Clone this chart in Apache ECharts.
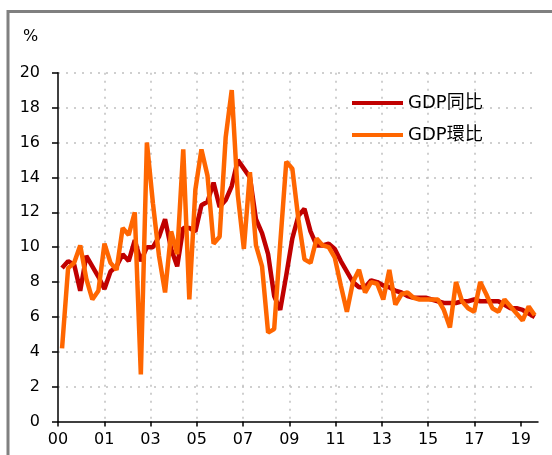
<!DOCTYPE html>
<html lang="zh-TW" style="height: 100%">
<head>
  <meta charset="utf-8">
</head>
<body style="height: 100%; margin: 0">
  <div id="container" style="width: 552px; height: 455px"></div>

  <script src="https://fastly.jsdelivr.net/npm/echarts@6.0.0/dist/echarts.min.js" type="text/javascript"></script>
  <script>
    // tick labels on the x axis (as printed on the chart)
    var xLabels = ['00', '01', '03', '05', '07', '09', '11', '13', '15', '17', '19'];
    // quarterly data, 2000Q1 .. 2019Q3
    var gdpYoy = [
      8.8, 9.2, 9.0, 7.5, 9.5, 8.9, 8.3, 7.6, 8.6, 8.9,
      9.6, 9.2, 10.4, 9.2, 10.0, 10.0, 10.6, 11.6, 9.9, 8.9,
      11.1, 11.1, 10.9, 12.4, 12.6, 13.7, 12.3, 12.7, 13.5, 15.0,
      14.5, 14.0, 11.6, 10.8, 9.6, 7.2, 6.4, 8.4, 10.5, 11.8,
      12.2, 10.9, 10.1, 10.1, 10.2, 9.9, 9.2, 8.6, 8.0, 7.7,
      7.7, 8.1, 8.0, 7.8, 7.7, 7.5, 7.4, 7.2, 7.1, 7.1,
      7.1, 7.0, 6.9, 6.8, 6.8, 6.8, 6.9, 6.9, 7.0, 6.9,
      6.9, 6.9, 6.9, 6.7, 6.5, 6.5, 6.4, 6.2, 6.0
    ];
    var gdpQoq = [
      4.2, 8.8, 9.1, 10.1, 8.2, 7.0, 7.5, 10.2, 9.1, 8.7,
      11.1, 10.7, 12.0, 2.7, 16.0, 12.5, 9.5, 7.4, 10.9, 9.6,
      15.6, 7.0, 13.3, 15.6, 14.1, 10.2, 10.6, 16.3, 19.0, 13.0,
      9.9, 14.3, 10.1, 8.9, 5.1, 5.3, 10.2, 14.9, 14.5, 11.6,
      9.3, 9.1, 10.5, 10.1, 10.0, 9.4, 7.8, 6.3, 8.0, 8.7,
      7.4, 8.0, 7.9, 7.0, 8.7, 6.7, 7.3, 7.4, 7.1, 7.0,
      7.0, 7.0, 7.0, 6.4, 5.4, 8.0, 6.9, 6.5, 6.3, 8.0,
      7.3, 6.5, 6.3, 7.0, 6.6, 6.2, 5.8, 6.6, 6.1
    ];

    var tickStep = 22.9; // months between labelled ticks
    var tickVals = xLabels.map(function (l, k) { return k * tickStep; });
    // x = month of quarter end, counted from Jan 2000
    function toPoints(arr) {
      return arr.map(function (v, i) { return [3 * i + 2, v]; });
    }

    var numFont = "'DejaVu Sans', sans-serif";
    var dom = document.getElementById('container');
    var myChart = echarts.init(dom, null, { renderer: 'canvas' });

    var option = {
      animation: false,
      backgroundColor: '#fff',
      title: {
        text: '%',
        left: 23,
        top: 29,
        padding: 0,
        textStyle: { fontSize: 16, fontWeight: 'normal', color: '#000', fontFamily: numFont }
      },
      graphic: [{
        type: 'rect',
        shape: { x: 8, y: 11.5, width: 700, height: 600 },
        style: { fill: 'none', stroke: '#808080', lineWidth: 3 },
        silent: true
      }],
      legend: {
        orient: 'vertical',
        left: 352,
        top: 94,
        padding: 0,
        itemGap: 14,
        itemWidth: 51,
        itemHeight: 4,
        icon: 'rect',
        textStyle: { fontSize: 18, color: '#000', fontFamily: "'DejaVu Sans', 'Noto Sans CJK TC', sans-serif" },
        data: ['GDP同比', 'GDP環比']
      },
      grid: { left: 58, right: 14, top: 72.7, bottom: 33.4, containLabel: false },
      xAxis: {
        type: 'value',
        min: 0,
        max: 237.6,
        interval: tickStep,
        axisLine: { show: true, lineStyle: { color: '#000', width: 1.5 } },
        axisTick: { show: true, length: 5, customValues: tickVals, lineStyle: { color: '#000', width: 1.5 } },
        axisLabel: {
          customValues: tickVals,
          formatter: function (v) { return xLabels[Math.round(v / tickStep)] || ''; },
          fontSize: 16,
          color: '#000',
          margin: 10,
          fontFamily: numFont
        },
        splitLine: { show: true, showMinLine: false, showMaxLine: false, lineStyle: { type: [2, 6], color: '#c0c0c0', width: 1.5 } }
      },
      yAxis: {
        type: 'value',
        min: 0,
        max: 20,
        interval: 2,
        axisLine: { show: true, lineStyle: { color: '#000', width: 1.5 } },
        axisTick: { show: true, length: 6, lineStyle: { color: '#000', width: 1.5 } },
        axisLabel: { fontSize: 16, color: '#000', margin: 18, fontFamily: numFont },
        splitLine: { show: true, showMinLine: false, lineStyle: { type: [2, 6], color: '#c0c0c0', width: 1.5 } }
      },
      series: [
        {
          name: 'GDP同比',
          type: 'line',
          symbol: 'none',
          data: toPoints(gdpYoy),
          color: '#c00000',
          lineStyle: { width: 4.5, color: '#c00000' }
        },
        {
          name: 'GDP環比',
          type: 'line',
          symbol: 'none',
          data: toPoints(gdpQoq),
          color: '#ff6600',
          lineStyle: { width: 4.5, color: '#ff6600' }
        }
      ]
    };

    myChart.setOption(option);
    window.addEventListener('resize', myChart.resize);
  </script>
</body>
</html>
